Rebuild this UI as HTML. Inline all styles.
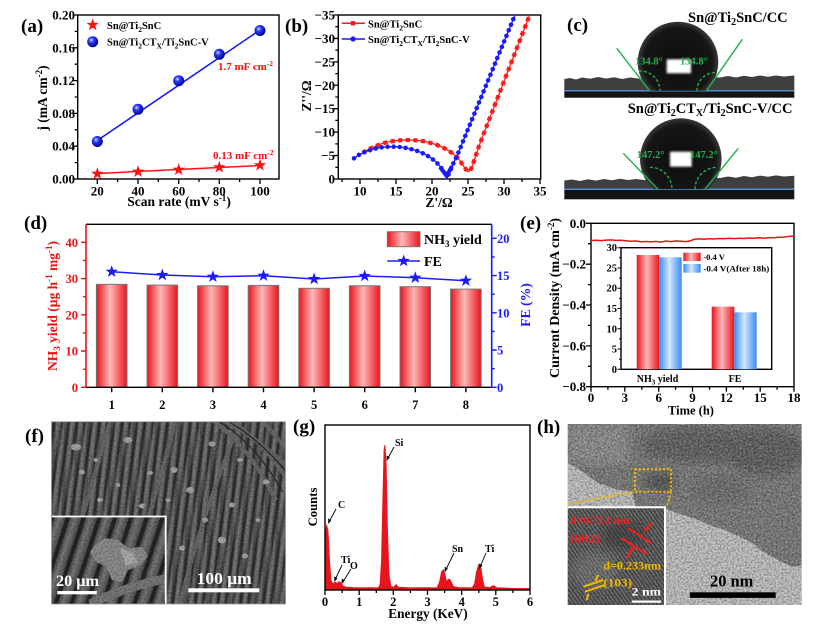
<!DOCTYPE html>
<html><head><meta charset="utf-8"><style>
html,body{margin:0;padding:0;background:#fff;}
svg{display:block;}
</style></head><body>
<svg width="831" height="634" viewBox="0 0 831 634" xmlns="http://www.w3.org/2000/svg" font-family="'Liberation Serif', serif" font-weight="bold">
<defs>
  <polygon id="star" points="0,-6.5 1.53,-2.1 6.18,-2.01 2.47,0.8 3.82,5.26 0,2.6 -3.82,5.26 -2.47,0.8 -6.18,-2.01 -1.53,-2.1"/>
  <radialGradient id="ball" cx="0.38" cy="0.35" r="0.65">
    <stop offset="0" stop-color="#d8e0ff"/><stop offset="0.35" stop-color="#2a3cff"/><stop offset="1" stop-color="#00008a"/>
  </radialGradient>
  <linearGradient id="barRed" x1="0" x2="1" y1="0" y2="0">
    <stop offset="0" stop-color="#e8141c"/><stop offset="0.45" stop-color="#ffb8b8"/><stop offset="1" stop-color="#e8141c"/>
  </linearGradient>
  <linearGradient id="barBlue" x1="0" x2="1" y1="0" y2="0">
    <stop offset="0" stop-color="#3a8cf0"/><stop offset="0.45" stop-color="#d4e7fc"/><stop offset="1" stop-color="#3a8cf0"/>
  </linearGradient>
  <linearGradient id="fibG" x1="0" x2="1" y1="0" y2="0">
    <stop offset="0" stop-color="#4a4a4a"/><stop offset="0.4" stop-color="#7c7c7c"/><stop offset="1" stop-color="#505050"/>
  </linearGradient>
  <pattern id="fib" width="7.5" height="40" patternUnits="userSpaceOnUse" patternTransform="rotate(8)">
    <rect width="7.5" height="40" fill="#303030"/>
    <rect x="0.8" width="5.4" height="40" fill="url(#fibG)"/>
  </pattern>
  <pattern id="fibB" width="11.3" height="40" patternUnits="userSpaceOnUse" patternTransform="rotate(2)">
    <rect width="11.3" height="40" fill="none"/>
    <rect x="0" width="3" height="40" fill="#1e1e1e"/>
    <rect x="5" width="3" height="40" fill="#8a8a8a"/>
  </pattern>
  <pattern id="fib2" width="15" height="60" patternUnits="userSpaceOnUse" patternTransform="rotate(18)">
    <rect width="15" height="60" fill="#252525"/>
    <rect x="1.5" width="11" height="60" fill="url(#fibG)"/>
  </pattern>
  <pattern id="lat" width="3.2" height="20" patternUnits="userSpaceOnUse" patternTransform="rotate(-35)">
    <rect width="3.2" height="20" fill="#4e4e4e"/>
    <rect x="0.4" width="1.4" height="20" fill="#7a7a7a"/>
  </pattern>
  <radialGradient id="dropG" cx="0.5" cy="0.5" r="0.5">
    <stop offset="0" stop-color="#0c0c0c"/><stop offset="0.85" stop-color="#161616"/><stop offset="1" stop-color="#3a3a3a"/>
  </radialGradient>
  <filter id="nz" filterUnits="userSpaceOnUse" x="0" y="0" width="831" height="634">
    <feTurbulence type="fractalNoise" baseFrequency="0.55" numOctaves="2" seed="5" result="t"/>
    <feColorMatrix in="t" type="matrix" values="0 0 0 0 0  0 0 0 0 0  0 0 0 0 0  2.2 0 0 0 -0.8"/>
  </filter>
  <filter id="nzw" filterUnits="userSpaceOnUse" x="0" y="0" width="831" height="634">
    <feTurbulence type="fractalNoise" baseFrequency="0.5" numOctaves="2" seed="11" result="t"/>
    <feColorMatrix in="t" type="matrix" values="0 0 0 0 1  0 0 0 0 1  0 0 0 0 1  2.2 0 0 0 -0.9"/>
  </filter>
  <filter id="blur1"><feGaussianBlur stdDeviation="1"/></filter>
  <filter id="blur4"><feGaussianBlur stdDeviation="5"/></filter>
  <filter id="blur05"><feGaussianBlur stdDeviation="0.5"/></filter>
  <clipPath id="cd1"><rect x="560" y="0" width="240" height="90.7"/></clipPath>
  <clipPath id="cd2"><rect x="560" y="100" width="240" height="89.3"/></clipPath>
  <clipPath id="clipF"><rect x="51.5" y="421.7" width="234" height="182.3"/></clipPath>
  <clipPath id="clipFi"><rect x="51.5" y="516.5" width="114.2" height="87.5"/></clipPath>
  <clipPath id="clipH"><rect x="567.7" y="424" width="234" height="181"/></clipPath>
  <clipPath id="clipHi"><rect x="567.7" y="507.3" width="97.3" height="97.7"/></clipPath>
</defs>

<!-- ================= (a) ================= -->
<text x="21" y="32" font-size="19">(a)</text>
<rect x="77.7" y="15" width="201.3" height="164" fill="none" stroke="#000" stroke-width="1.4"/>
<path d="M77.7,179h-5M77.7,146.2h-5M77.7,113.4h-5M77.7,80.6h-5M77.7,47.8h-5M77.7,15h-5M77.7,162.6h-3M77.7,129.8h-3M77.7,97h-3M77.7,64.2h-3M77.7,31.4h-3M97.3,179v5M138,179v5M178.7,179v5M219.3,179v5M260,179v5M117.6,179v3M158.3,179v3M199,179v3M239.6,179v3" stroke="#000" stroke-width="1.3"/>
<g font-size="13" text-anchor="end">
<text x="75" y="183.5">0.00</text><text x="75" y="150.7">0.04</text><text x="75" y="117.9">0.08</text><text x="75" y="85.1">0.12</text><text x="75" y="52.3">0.16</text><text x="75" y="19.5">0.20</text>
</g>
<g font-size="13" text-anchor="middle">
<text x="97.3" y="195.5">20</text><text x="138" y="195.5">40</text><text x="178.7" y="195.5">60</text><text x="219.3" y="195.5">80</text><text x="260" y="195.5">100</text>
</g>
<text x="179" y="206" font-size="13.5" text-anchor="middle">Scan rate (mV s<tspan dy="-5" font-size="9">-1</tspan><tspan dy="5">)</tspan></text>
<text transform="translate(47,98) rotate(-90)" font-size="13.5" text-anchor="middle">j (mA cm<tspan dy="-5" font-size="9">-2</tspan><tspan dy="5">)</tspan></text>
<line x1="97.3" y1="140.5" x2="260" y2="30" stroke="#1010ff" stroke-width="1.5"/>
<line x1="97.3" y1="173.5" x2="260" y2="165.5" stroke="#ff1010" stroke-width="1.5"/>
<g fill="url(#ball)">
<circle cx="97.3" cy="141.5" r="5.5"/><circle cx="138" cy="109.3" r="5.5"/><circle cx="178.7" cy="80.7" r="5.5"/><circle cx="219.3" cy="54.3" r="5.5"/><circle cx="260" cy="30.5" r="5.5"/>
</g>
<g fill="#ff1010">
<use href="#star" x="97.3" y="173.7"/><use href="#star" x="138" y="171.7"/><use href="#star" x="178.7" y="169.7"/><use href="#star" x="219.3" y="167.3"/><use href="#star" x="260" y="165.3"/>
</g>
<use href="#star" x="92.7" y="25" fill="#ff1010"/>
<circle cx="92.7" cy="41.7" r="5.5" fill="url(#ball)"/>
<text x="107" y="29" font-size="10.5">Sn@Ti<tspan dy="3" font-size="7.5">2</tspan><tspan dy="-3">SnC</tspan></text>
<text x="107" y="45.5" font-size="10.5">Sn@Ti<tspan dy="3" font-size="7.5">2</tspan><tspan dy="-3">CT</tspan><tspan dy="3" font-size="7.5">X</tspan><tspan dy="-3">/Ti</tspan><tspan dy="3" font-size="7.5">2</tspan><tspan dy="-3">SnC-V</tspan></text>
<text x="218" y="70" font-size="11" fill="#ff1010">1.7 mF cm<tspan dy="-4" font-size="7.5">-2</tspan></text>
<text x="213" y="159" font-size="11" fill="#ff1010">0.13 mF cm<tspan dy="-4" font-size="7.5">-2</tspan></text>

<!-- ================= (b) ================= -->
<text x="285" y="32" font-size="19">(b)</text>
<rect x="338.3" y="15" width="202.4" height="164" fill="none" stroke="#000" stroke-width="1.4"/>
<path d="M338.3,179h-5M338.3,155.57h-5M338.3,132.14h-5M338.3,108.71h-5M338.3,85.28h-5M338.3,61.85h-5M338.3,38.42h-5M338.3,15h-5M338.3,167.3h-3M338.3,143.9h-3M338.3,120.4h-3M338.3,97h-3M338.3,73.6h-3M338.3,50.1h-3M338.3,26.7h-3M360,179v5M396,179v5M432,179v5M468,179v5M504,179v5M540,179v5M342,179v3M378,179v3M414,179v3M450,179v3M486,179v3M522,179v3" stroke="#000" stroke-width="1.3"/>
<g font-size="13" text-anchor="end">
<text x="335" y="183.5">0</text><text x="335" y="160">−5</text><text x="335" y="136.6">−10</text><text x="335" y="113.2">−15</text><text x="335" y="89.8">−20</text><text x="335" y="66.3">−25</text><text x="335" y="42.9">−30</text><text x="335" y="19.5">−35</text>
</g>
<g font-size="13" text-anchor="middle">
<text x="360" y="195.5">10</text><text x="396" y="195.5">15</text><text x="432" y="195.5">20</text><text x="468" y="195.5">25</text><text x="504" y="195.5">30</text><text x="540" y="195.5">35</text>
</g>
<text x="439" y="207" font-size="13.5" text-anchor="middle">Z'/Ω</text>
<text transform="translate(311,96) rotate(-90)" font-size="13.5" text-anchor="middle">Z''/Ω</text>
<path d="M364.3,151.7 L370,148.6 L376,146 L382,143.6 L388,142 L394,140.9 L400,140.3 L406,140 L412,140.1 L418,140.5 L424,141.3 L430,142.8 L436,144.6 L442,147 L448,150.3 L453,153.6 L457,157 L460.5,161.5 L463.5,166 L466,169.5 L468.3,171.7 L470.5,170 L472.5,165.5 L474.5,159.5 L477,152 L480,143.3 L529.3,16" fill="none" stroke="#ff1a1a" stroke-width="1.3"/>
<path d="M364.3,151.7 L370,148.6 L376,146 L382,143.6 L388,142 L394,140.9 L400,140.3 L406,140 L412,140.1 L418,140.5 L424,141.3 L430,142.8 L436,144.6 L442,147 L448,150.3 L453,153.6 L457,157 L460.5,161.5 L463.5,166 L466,169.5 L468.3,171.7 L470.5,170 L472.5,165.5 L474.5,159.5 L477,152 L480,143.3 L529.3,16" fill="none" stroke="#ff1a1a" stroke-width="4.2" stroke-linecap="square" stroke-dasharray="0.01 7.6"/>
<path d="M354,158.3 L359,154.8 L365,152 L371,149.8 L377,148.2 L383,147.1 L389,146.7 L395,146.7 L401,147.1 L407,148.1 L413,149.6 L419,151.6 L425,154.3 L430,157.3 L435,161 L439,165 L442.5,169.5 L445,173.5 L446.7,176 L448.5,174.5 L450.5,170 L453,164 L456.7,156.7 L515,15" fill="none" stroke="#1a1aff" stroke-width="1.3"/>
<path d="M354,158.3 L359,154.8 L365,152 L371,149.8 L377,148.2 L383,147.1 L389,146.7 L395,146.7 L401,147.1 L407,148.1 L413,149.6 L419,151.6 L425,154.3 L430,157.3 L435,161 L439,165 L442.5,169.5 L445,173.5 L446.7,176 L448.5,174.5 L450.5,170 L453,164 L456.7,156.7 L515,15" fill="none" stroke="#1a1aff" stroke-width="4.6" stroke-linecap="round" stroke-dasharray="0.01 6"/>
<path d="M440,167 L446.7,176 L452,166" fill="none" stroke="#1a1aff" stroke-width="4"/>
<line x1="341.7" y1="23.3" x2="365" y2="23.3" stroke="#ff1a1a" stroke-width="1.5"/>
<rect x="350.8" y="21.1" width="4.4" height="4.4" fill="#ff1a1a"/>
<line x1="341.7" y1="39" x2="365" y2="39" stroke="#1a1aff" stroke-width="1.5"/>
<circle cx="353" cy="39" r="2.6" fill="#1a1aff"/>
<text x="368" y="27.3" font-size="10.5">Sn@Ti<tspan dy="3" font-size="7.5">2</tspan><tspan dy="-3">SnC</tspan></text>
<text x="368" y="43" font-size="10.5">Sn@Ti<tspan dy="3" font-size="7.5">2</tspan><tspan dy="-3">CT</tspan><tspan dy="3" font-size="7.5">X</tspan><tspan dy="-3">/Ti</tspan><tspan dy="3" font-size="7.5">2</tspan><tspan dy="-3">SnC-V</tspan></text>

<!-- ================= (c) ================= -->
<text x="567" y="31" font-size="19">(c)</text>
<text x="688" y="22" font-size="14.5">Sn@Ti<tspan dy="3" font-size="10">2</tspan><tspan dy="-3">SnC/CC</tspan></text>
<path d="M564.3,79 L570,78 L576,79.5 L582,77.5 L590,78.8 L598,77 L606,78.5 L614,77.2 L622,79 L630,77.5 L638,78.5 L646,80 L654,79 L700,79 L706,78 L712,77 L720,77.5 L728,76 L736,77.5 L744,75.8 L752,77 L760,75.5 L768,76.8 L776,75.5 L784,76.5 L794.3,75.5 L794.3,90.7 L564.3,90.7 Z" fill="#3f3f3f"/>
<rect x="564.3" y="90.7" width="230" height="7" fill="#141414"/>
<line x1="564.3" y1="90.7" x2="794.3" y2="90.7" stroke="#4d8fd6" stroke-width="1.5"/>
<g clip-path="url(#cd1)"><circle cx="678" cy="62" r="40.3" fill="url(#dropG)"/></g>
<rect x="666.7" y="59.3" width="24.3" height="14" fill="#fff" filter="url(#blur1)"/>
<g stroke="#22b14c" stroke-width="1.4" fill="none">
<line x1="616.7" y1="48.3" x2="649.5" y2="90.7"/><line x1="742.3" y1="39.3" x2="706.5" y2="90.7"/>
<path d="M639,71 A20 20 0 0 1 660,90.7" stroke-dasharray="3 2"/>
<path d="M697,90.7 A18 18 0 0 1 715,72.7" stroke-dasharray="3 2"/>
</g>
<g font-size="10.5" fill="#22b14c"><text x="635" y="64.5">134.8°</text><text x="680" y="64.5">134.8°</text></g>

<text x="627.7" y="113" font-size="14.5">Sn@Ti<tspan dy="3" font-size="10">2</tspan><tspan dy="-3">CT</tspan><tspan dy="3" font-size="10">X</tspan><tspan dy="-3">/Ti</tspan><tspan dy="3" font-size="10">2</tspan><tspan dy="-3">SnC-V/CC</tspan></text>
<path d="M564.3,180.5 L572,179.5 L580,181 L588,179.2 L596,180.6 L604,179 L612,180.2 L620,178.8 L628,180 L636,179 L644,180 L720,178 L728,176.5 L736,177.8 L744,176 L752,177.2 L760,175.6 L768,176.8 L776,175.4 L784,176.5 L794.3,175.8 L794.3,189.3 L564.3,189.3 Z" fill="#3f3f3f"/>
<rect x="564.3" y="189.3" width="230" height="10" fill="#141414"/>
<line x1="564.3" y1="189.3" x2="794.3" y2="189.3" stroke="#4d8fd6" stroke-width="1.5"/>
<g clip-path="url(#cd2)"><circle cx="680.8" cy="159.1" r="40.8" fill="url(#dropG)"/></g>
<rect x="670" y="151.7" width="21.7" height="15" fill="#fff" filter="url(#blur1)"/>
<g stroke="#22b14c" stroke-width="1.4" fill="none">
<line x1="623.3" y1="153.3" x2="658" y2="189.3"/><line x1="738.3" y1="148.3" x2="705" y2="189.3"/>
<path d="M650,167.3 A22 22 0 0 1 672,189.3" stroke-dasharray="3 2"/>
<path d="M695,189.3 A22 22 0 0 1 717,167.3" stroke-dasharray="3 2"/>
</g>
<g font-size="10.5" fill="#22b14c"><text x="636.7" y="158">147.2°</text><text x="690" y="158">147.2°</text></g>

<!-- ================= (d) ================= -->
<text x="24" y="229" font-size="19">(d)</text>
<g>
<rect x="96.4" y="284.35" width="30.6" height="102.95" fill="url(#barRed)" stroke="#777" stroke-width="1"/>
<rect x="147" y="285.1" width="30.6" height="102.2" fill="url(#barRed)" stroke="#777" stroke-width="1"/>
<rect x="197.6" y="285.8" width="30.6" height="101.5" fill="url(#barRed)" stroke="#777" stroke-width="1"/>
<rect x="248.2" y="285.4" width="30.6" height="101.9" fill="url(#barRed)" stroke="#777" stroke-width="1"/>
<rect x="298.8" y="288.3" width="30.6" height="99" fill="url(#barRed)" stroke="#777" stroke-width="1"/>
<rect x="349.4" y="285.8" width="30.6" height="101.5" fill="url(#barRed)" stroke="#777" stroke-width="1"/>
<rect x="400" y="286.7" width="30.6" height="100.6" fill="url(#barRed)" stroke="#777" stroke-width="1"/>
<rect x="450.6" y="289.1" width="30.6" height="98.2" fill="url(#barRed)" stroke="#777" stroke-width="1"/>
</g>
<line x1="86" y1="224.3" x2="491.7" y2="224.3" stroke="#000" stroke-width="1.4"/>
<line x1="86" y1="387.3" x2="491.7" y2="387.3" stroke="#000" stroke-width="1.4"/>
<line x1="86" y1="224.3" x2="86" y2="387.3" stroke="#f01010" stroke-width="1.6"/>
<line x1="491.7" y1="224.3" x2="491.7" y2="387.3" stroke="#1a1aff" stroke-width="1.6"/>
<path d="M86,387.3h-5M86,351h-5M86,314.8h-5M86,278.6h-5M86,242.3h-5M86,369.2h-3M86,332.9h-3M86,296.7h-3M86,260.4h-3" stroke="#f01010" stroke-width="1.4"/>
<path d="M491.7,387.3h5M491.7,350h5M491.7,312.8h5M491.7,275.55h5M491.7,238.3h5M491.7,368.7h3M491.7,331.4h3M491.7,294.2h3M491.7,256.9h3" stroke="#1a1aff" stroke-width="1.4"/>
<path d="M111.7,387.3v5M162.3,387.3v5M212.9,387.3v5M263.5,387.3v5M314.1,387.3v5M364.7,387.3v5M415.3,387.3v5M465.9,387.3v5" stroke="#000" stroke-width="1.4"/>
<g font-size="12.5" text-anchor="end" fill="#f01010">
<text x="78" y="391.8">0</text><text x="78" y="355.5">10</text><text x="78" y="319.3">20</text><text x="78" y="283.1">30</text><text x="78" y="246.8">40</text>
</g>
<g font-size="12.5" fill="#1a1aff">
<text x="497" y="391.8">0</text><text x="497" y="354.5">5</text><text x="497" y="317.3">10</text><text x="497" y="280">15</text><text x="497" y="242.8">20</text>
</g>
<g font-size="12.5" text-anchor="middle">
<text x="111.7" y="409">1</text><text x="162.3" y="409">2</text><text x="212.9" y="409">3</text><text x="263.5" y="409">4</text><text x="314.1" y="409">5</text><text x="364.7" y="409">6</text><text x="415.3" y="409">7</text><text x="465.9" y="409">8</text>
</g>
<text transform="translate(57,306) rotate(-90)" font-size="13.5" text-anchor="middle" fill="#f01010">NH<tspan dy="3" font-size="9">3</tspan><tspan dy="-3"> yield (μg h</tspan><tspan dy="-5" font-size="9">-1</tspan><tspan dy="5"> mg</tspan><tspan dy="-5" font-size="9">-1</tspan><tspan dy="5">)</tspan></text>
<text transform="translate(530,305) rotate(-90)" font-size="13.7" text-anchor="middle" fill="#1a1aff">FE (%)</text>
<polyline points="111.7,271.7 162.3,275 212.9,276.7 263.5,275.7 314.1,279 364.7,276 415.3,277.7 465.9,280.7" fill="none" stroke="#1a1aff" stroke-width="1.5"/>
<g fill="#1a1aff">
<use href="#star" x="111.7" y="271.7"/><use href="#star" x="162.3" y="275"/><use href="#star" x="212.9" y="276.7"/><use href="#star" x="263.5" y="275.7"/><use href="#star" x="314.1" y="279"/><use href="#star" x="364.7" y="276"/><use href="#star" x="415.3" y="277.7"/><use href="#star" x="465.9" y="280.7"/>
</g>
<rect x="387.3" y="231.7" width="32.7" height="15" fill="url(#barRed)" stroke="#777" stroke-width="1"/>
<text x="424" y="244" font-size="14">NH<tspan dy="3" font-size="9">3</tspan><tspan dy="-3"> yield</tspan></text>
<line x1="387.3" y1="261" x2="420" y2="261" stroke="#1a1aff" stroke-width="1.5"/>
<use href="#star" x="403.7" y="261" fill="#1a1aff"/>
<text x="424" y="266" font-size="14">FE</text>

<!-- ================= (e) ================= -->
<text x="520" y="229" font-size="19">(e)</text>
<rect x="591" y="223.3" width="203" height="163.4" fill="none" stroke="#000" stroke-width="1.4"/>
<path d="M591,223.3h-5M591,264.2h-5M591,305h-5M591,345.85h-5M591,386.7h-5M591,243.7h-3M591,284.6h-3M591,325.4h-3M591,366.3h-3M591,386.7v5M624.8,386.7v5M658.7,386.7v5M692.5,386.7v5M726.4,386.7v5M760.2,386.7v5M794,386.7v5M607.9,386.7v3M641.8,386.7v3M675.6,386.7v3M709.5,386.7v3M743.3,386.7v3M777.1,386.7v3" stroke="#000" stroke-width="1.3"/>
<g font-size="13" text-anchor="end">
<text x="586" y="227.8">0.0</text><text x="586" y="268.7">−0.2</text><text x="586" y="309.5">−0.4</text><text x="586" y="350.4">−0.6</text><text x="586" y="391.2">−0.8</text>
</g>
<g font-size="13" text-anchor="middle">
<text x="591" y="402">0</text><text x="624.8" y="402">3</text><text x="658.7" y="402">6</text><text x="692.5" y="402">9</text><text x="726.4" y="402">12</text><text x="760.2" y="402">15</text><text x="794" y="402">18</text>
</g>
<text x="691" y="414.5" font-size="12.5" text-anchor="middle">Time (h)</text>
<text transform="translate(559,298) rotate(-90)" font-size="14" text-anchor="middle">Current Density (mA cm<tspan dy="-5" font-size="9">-2</tspan><tspan dy="5">)</tspan></text>
<polyline points="591,240.5 596,240.2 601,240.6 606,240.1 611,239.9 616,240.4 621,240.2 626,240.8 631,241.3 636,241 641,241.8 646,241.5 651,241.9 656,241.4 661,242.1 666,241 671,241.6 676,240.9 681,241.2 686,241.6 690,240.9 694,239.4 699,238.9 704,239.2 709,238.7 714,239 719,238.5 724,238.8 729,238.3 734,238.6 739,238.2 744,238.5 749,238 754,238.3 759,237.8 764,238.1 769,237.6 774,237.8 779,237.3 784,237.1 789,236.4 794,236.2" fill="none" stroke="#ee1111" stroke-width="1.5"/>
<!-- inset -->
<rect x="621" y="247.7" width="150.7" height="121.6" fill="#fff" stroke="#000" stroke-width="1.4"/>
<rect x="636.7" y="255" width="22.6" height="114.3" fill="url(#barRed)"/>
<rect x="659.3" y="257.3" width="22.4" height="112" fill="url(#barBlue)"/>
<rect x="711.7" y="306.7" width="22.6" height="62.6" fill="url(#barRed)"/>
<rect x="734.3" y="312.3" width="22.4" height="57" fill="url(#barBlue)"/>
<path d="M621,369.3h-3.5M621,349h-3.5M621,328.8h-3.5M621,308.5h-3.5M621,288.2h-3.5M621,268h-3.5M621,247.7h-3.5M621,359.2h-2M621,338.9h-2M621,318.6h-2M621,298.4h-2M621,278.1h-2M621,257.8h-2" stroke="#000" stroke-width="1"/>
<g font-size="10.5" text-anchor="end">
<text x="617" y="372.8">0</text><text x="617" y="352.5">5</text><text x="617" y="332.3">10</text><text x="617" y="312">15</text><text x="617" y="291.7">20</text><text x="617" y="271.5">25</text><text x="617" y="251.2">30</text>
</g>
<text x="657.5" y="382" font-size="10" text-anchor="middle">NH<tspan dy="2.5" font-size="7">3</tspan><tspan dy="-2.5"> yield</tspan></text>
<text x="735" y="382" font-size="10" text-anchor="middle">FE</text>
<rect x="683.3" y="252.7" width="17.4" height="8.3" fill="url(#barRed)"/>
<rect x="683.3" y="264" width="17.4" height="8.7" fill="url(#barBlue)"/>
<text x="703.3" y="260" font-size="8.5">-0.4 V</text>
<text x="703.3" y="271.5" font-size="8.5" textLength="66" lengthAdjust="spacingAndGlyphs">-0.4 V(After 18h)</text>

<!-- ================= (f) ================= -->
<text x="25" y="442" font-size="19">(f)</text>
<g clip-path="url(#clipF)">
  <rect x="51.5" y="421.7" width="234" height="182.3" fill="url(#fib)"/>
  <rect x="51.5" y="421.7" width="234" height="182.3" fill="url(#fibB)" opacity="0.3"/>
  <g fill="none" stroke="#6a6a6a" stroke-width="4">
    <path d="M222,420 Q262,440 290,470"/><path d="M230,420 Q266,444 290,484"/><path d="M212,420 Q248,445 276,500"/><path d="M262,420 Q278,440 290,452"/>
    <path d="M180,604 Q200,520 240,422"/><path d="M120,604 Q150,520 175,422"/><path d="M70,560 Q90,490 110,422"/>
  </g>
  <g fill="none" stroke="#2a2a2a" stroke-width="1.2">
    <path d="M226,420 Q264,442 290,477"/><path d="M217,420 Q255,443 283,492"/>
  </g>
  <g fill="#a8a8a8">
    <ellipse cx="76" cy="447" rx="5" ry="3.5"/><ellipse cx="82" cy="472" rx="3" ry="2.5"/><ellipse cx="128" cy="440" rx="4.5" ry="3"/><ellipse cx="150" cy="473" rx="3" ry="2"/>
    <ellipse cx="174" cy="470" rx="3.5" ry="3"/><ellipse cx="212" cy="444" rx="3.5" ry="2.5"/><ellipse cx="190" cy="490" rx="4" ry="3"/><ellipse cx="232" cy="505" rx="3" ry="2.5"/>
    <ellipse cx="222" cy="540" rx="4" ry="3.5"/><ellipse cx="245" cy="556" rx="3" ry="2.5"/><ellipse cx="182" cy="548" rx="3" ry="2.5"/><ellipse cx="100" cy="500" rx="3" ry="2"/>
    <ellipse cx="142" cy="506" rx="3" ry="2.5"/><ellipse cx="266" cy="482" rx="3.5" ry="2.5"/><ellipse cx="168" cy="500" rx="2.5" ry="2"/><ellipse cx="205" cy="520" rx="3" ry="2.5"/>
    <ellipse cx="258" cy="520" rx="2.5" ry="2"/><ellipse cx="96" cy="460" rx="2.5" ry="2"/><ellipse cx="118" cy="485" rx="2.5" ry="2"/><ellipse cx="240" cy="460" rx="3" ry="2"/>
  </g>
  <rect x="51.5" y="421.7" width="234" height="182.3" fill="#000" filter="url(#nz)" opacity="0.3"/>
</g>
<g clip-path="url(#clipFi)">
  <rect x="51.5" y="516.5" width="114.2" height="87.5" fill="url(#fib2)"/>
  <path d="M90,604 Q130,585 170,578" fill="none" stroke="#7a7a7a" stroke-width="9"/>
  <path d="M95,545 L105,538 L118,540 L128,548 L142,547 L148,556 L140,566 L128,570 L122,582 L112,580 L106,566 L96,562 L90,552 Z" fill="#8f8f8f"/>
  <path d="M120,548 L132,552 L138,562 L126,566 Z" fill="#b0b0b0"/>
  <rect x="51.5" y="516.5" width="114.2" height="87.5" fill="#000" filter="url(#nz)" opacity="0.3"/>
</g>
<path d="M51.5,516.5 H165.7 V604" fill="none" stroke="#fff" stroke-width="1.8"/>
<rect x="51.5" y="421.7" width="234" height="182.3" fill="none" stroke="#999" stroke-width="0.8"/>
<text x="56" y="586" font-size="15.5" fill="#fff" textLength="43" lengthAdjust="spacingAndGlyphs">20 μm</text>
<rect x="57.3" y="591" width="39.4" height="3.3" fill="#fff"/>
<text x="196.7" y="584" font-size="17" fill="#fff" textLength="55" lengthAdjust="spacingAndGlyphs">100 μm</text>
<rect x="188.3" y="588.3" width="71" height="4" fill="#fff"/>

<!-- ================= (g) ================= -->
<text x="293" y="432.7" font-size="19">(g)</text>
<path d="M325,590 L325,540 L326.5,525 L328,530 L329.5,560 L331,580 L333,584 L335,582 L337,583.5 L339,581.5 L341,583 L343,586 L346,587 L352,587.5 L360,587.8 L370,587.6 L378,587.8 L380,585 L381.5,560 L382.8,500 L384,450 L385,445 L386.2,465 L387.5,530 L389,575 L391,586.5 L394,587 L396,584.5 L398,587 L410,587.8 L425,587.7 L437,587.8 L439.5,582 L441.5,572 L443.5,569.5 L445.2,575 L446.5,582 L448,579.5 L449.7,579 L451.5,582.5 L453.5,586.5 L458,587.5 L472,587.8 L474.5,584 L476.5,572 L478.5,565 L479.8,564 L481.2,569 L482.7,580 L484.5,587 L490,587.5 L493.5,585.5 L496.5,587.6 L510,588.2 L530,588.5 L530,590 Z" fill="#e8141c" stroke="#e8141c" stroke-width="0.8" stroke-linejoin="round"/>
<rect x="325" y="425" width="205" height="165" fill="none" stroke="#000" stroke-width="1.4"/>
<path d="M325,590v5M359.2,590v5M393.3,590v5M427.5,590v5M461.7,590v5M495.8,590v5M530,590v5M342.1,590v3M376.3,590v3M410.4,590v3M444.6,590v3M478.8,590v3M512.9,590v3" stroke="#000" stroke-width="1.3"/>
<g font-size="12.5" text-anchor="middle">
<text x="325" y="606">0</text><text x="359.2" y="606">1</text><text x="393.3" y="606">2</text><text x="427.5" y="606">3</text><text x="461.7" y="606">4</text><text x="495.8" y="606">5</text><text x="530" y="606">6</text>
</g>
<text x="428" y="618" font-size="13.3" text-anchor="middle">Energy (KeV)</text>
<text transform="translate(317,507) rotate(-90)" font-size="12.7" text-anchor="middle">Counts</text>
<g stroke="#000" stroke-width="0.9" fill="none">
<path d="M394,447 L387.5,459"/><path d="M336,509 L329,522"/><path d="M342,565 L335,580"/><path d="M351,569 L342.5,582.5"/><path d="M454,553 L445.5,570.5"/><path d="M486,553 L480,567"/>
</g>
<g fill="#000">
<path d="M386.8,461 L386.5,455.5 L389.8,457.2 Z"/><path d="M328.3,524 L328,518.5 L331.3,520.2 Z"/><path d="M334.3,582 L334.2,576.5 L337.4,578.3 Z"/><path d="M341.6,584 L341.8,578.5 L344.8,580.6 Z"/><path d="M444.7,572.3 L444.7,566.8 L447.9,568.6 Z"/><path d="M479.3,569 L479.3,563.5 L482.5,565.2 Z"/>
</g>
<g font-size="10">
<text x="395" y="446">Si</text><text x="338" y="508">C</text><text x="341" y="563">Ti</text><text x="350" y="569">O</text><text x="452" y="552">Sn</text><text x="485" y="552">Ti</text>
</g>

<!-- ================= (h) ================= -->
<text x="537" y="433" font-size="19">(h)</text>
<g clip-path="url(#clipH)">
  <rect x="567.7" y="424" width="234" height="181" fill="#7a7a7a"/>
  <rect x="567.7" y="424" width="60" height="40" fill="#8e8e8e" filter="url(#blur4)"/>
  <ellipse cx="700" cy="445" rx="60" ry="18" fill="#606060" filter="url(#blur4)"/>
  <ellipse cx="765" cy="452" rx="40" ry="24" fill="#5e5e5e" filter="url(#blur4)"/>
  <ellipse cx="660" cy="482" rx="16" ry="10" fill="#525252" filter="url(#blur4)"/>
  <ellipse cx="720" cy="490" rx="30" ry="15" fill="#6e6e6e" filter="url(#blur4)"/>
  <path d="M567.7,463 L580,470 L598,483 L615,489 L632,492 L636,507 L567.7,507 Z" fill="#c2c2c2"/>
  <path d="M666,509 L680,514 L698,520 L712,526 L725,530 L740,537 L752,543 L765,553 L778,560 L792,566.7 L801.7,566 L801.7,605 L666,605 Z" fill="#c2c2c2"/>
  <rect x="567.7" y="424" width="234" height="181" fill="#000" filter="url(#nz)" opacity="0.4"/>
  <rect x="567.7" y="424" width="234" height="181" fill="#fff" filter="url(#nzw)" opacity="0.3"/>
</g>
<g clip-path="url(#clipHi)">
  <rect x="567.7" y="507.3" width="97.3" height="97.7" fill="url(#lat)"/>
  <ellipse cx="625" cy="535" rx="22" ry="14" fill="#3a3a3a" opacity="0.5" filter="url(#blur4)"/>
  <ellipse cx="595" cy="570" rx="22" ry="18" fill="#9a9a9a" opacity="0.4" filter="url(#blur4)"/>
  <rect x="567.7" y="507.3" width="97.3" height="97.7" fill="#000" filter="url(#nz)" opacity="0.35"/>
</g>
<path d="M567.7,507.3 H665 V605" fill="none" stroke="#fff" stroke-width="2"/>
<rect x="635" y="469.3" width="36" height="22.4" fill="none" stroke="#f5b800" stroke-width="2" stroke-dasharray="2 2"/>
<line x1="567.7" y1="504" x2="635" y2="491.7" stroke="#f5b800" stroke-width="2" stroke-dasharray="2 2"/>
<line x1="671" y1="491.7" x2="666.7" y2="506.7" stroke="#f5b800" stroke-width="2" stroke-dasharray="2 2"/>
<g stroke="#ff1a1a" stroke-width="2">
<line x1="628.3" y1="528.3" x2="651.7" y2="543.3"/><line x1="621.7" y1="538.3" x2="646.7" y2="554"/>
<line x1="651.7" y1="522.7" x2="646" y2="530"/><line x1="626.7" y1="558.3" x2="632.5" y2="548"/>
</g>
<path d="M644.5,532 L644.5,527 L648.5,529 Z M633.8,546 L634.3,551 L630.3,549.5 Z" fill="#ff1a1a"/>
<g stroke="#f5b800" stroke-width="2">
<line x1="583.3" y1="586.7" x2="603.3" y2="580"/><line x1="585" y1="591.7" x2="605" y2="585"/>
<line x1="598.3" y1="575" x2="595.5" y2="581"/><line x1="586.7" y1="600" x2="588.3" y2="594"/>
</g>
<text x="570" y="524" font-size="11.5" fill="#ff1a1a" textLength="60" lengthAdjust="spacingAndGlyphs">d=0.712 nm</text>
<text x="570" y="542.7" font-size="11.5" fill="#ff1a1a" textLength="30" lengthAdjust="spacingAndGlyphs">(002)</text>
<text x="603.3" y="569.3" font-size="11.5" fill="#f5b800" textLength="57.7" lengthAdjust="spacingAndGlyphs">d=0.233nm</text>
<text x="603.3" y="586.7" font-size="11.5" fill="#f5b800" textLength="28.7" lengthAdjust="spacingAndGlyphs">(103)</text>
<text x="631.7" y="595.7" font-size="11.5" fill="#fff" textLength="29.3" lengthAdjust="spacingAndGlyphs">2 nm</text>
<rect x="631.7" y="600.5" width="29.5" height="2.2" fill="#fff"/>
<text x="710" y="586.7" font-size="16.5" textLength="43.3" lengthAdjust="spacingAndGlyphs">20 nm</text>
<rect x="690" y="592.3" width="85.7" height="5.6" fill="#000"/>
</svg>
</body></html>
